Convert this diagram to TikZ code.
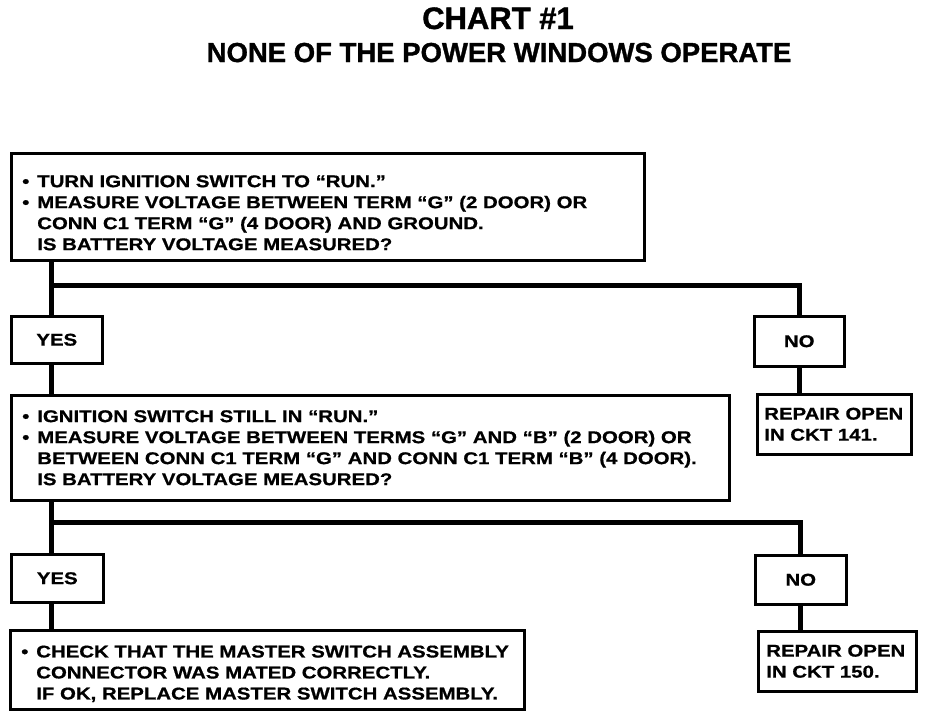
\documentclass[tikz,border=0pt]{standalone}
\usepackage{fontspec}
\setmainfont{Liberation Sans}
\newfontfamily\bodyfont[FakeStretch=1.2, BoldFeatures={FakeBold=0.8}]{Liberation Sans}
\newfontfamily\titlefont[BoldFeatures={FakeBold=1.2}]{Liberation Sans}
\newcommand{\bul}{\makebox[15pt][l]{•}}
\newcommand{\ind}{\hspace*{15pt}}
\begin{document}
\begin{tikzpicture}[x=1pt,y=-1pt,
  box/.style={draw=black, line width=2.5pt, anchor=north west, inner xsep=11pt, inner ysep=0pt,
    align=left, font=\bodyfont\bfseries\fontsize{17pt}{21pt}\selectfont},
  ansbox/.style={box, align=center, inner xsep=0pt},
  conn/.style={line width=5pt},
  ttl/.style={font=\titlefont\bfseries, anchor=base}]
\useasboundingbox (0,0) rectangle (928,720);

\node[ttl, font=\titlefont\bfseries\fontsize{31pt}{34pt}\selectfont] (t1) at (498,29) {CHART \#1};
\node[ttl, font=\titlefont\bfseries\fontsize{27.5pt}{30pt}\selectfont] (t2) at (499,62) {NONE OF THE POWER WINDOWS OPERATE};

\node[box, minimum width=633pt, minimum height=107pt, text width=611pt] (b1) at (10,152)
  {\rule{0pt}{24pt}\bul TURN IGNITION SWITCH TO “RUN.”\\
   \bul MEASURE VOLTAGE BETWEEN TERM “G” (2 DOOR) OR\\
   \ind CONN C1 TERM “G” (4 DOOR) AND GROUND.\\
   \ind IS BATTERY VOLTAGE MEASURED?};

\node[ansbox, minimum width=91pt, minimum height=47pt] (y1) at (10,315) {YES};
\node[ansbox, minimum width=90pt, minimum height=50pt] (n1) at (753,315) {NO};
\node[box, inner xsep=7pt, minimum width=154pt, minimum height=60pt, text width=140pt] (r1) at (756,393)
  {REPAIR OPEN\\IN CKT 141.};

\node[box, minimum width=718pt, minimum height=105pt, text width=696pt] (b2) at (10,394)
  {\bul IGNITION SWITCH STILL IN “RUN.”\\
   \bul MEASURE VOLTAGE BETWEEN TERMS “G” AND “B” (2 DOOR) OR\\
   \ind BETWEEN CONN C1 TERM “G” AND CONN C1 TERM “B” (4 DOOR).\\
   \ind IS BATTERY VOLTAGE MEASURED?};

\node[ansbox, minimum width=92pt, minimum height=48pt] (y2) at (10,553) {YES};
\node[ansbox, minimum width=91pt, minimum height=49pt] (n2) at (754,554) {NO};
\node[box, inner xsep=8pt, minimum width=158pt, minimum height=60pt, text width=142pt] (r2) at (757,630)
  {REPAIR OPEN\\IN CKT 150.};

\node[box, minimum width=514pt, minimum height=79pt, text width=492pt] (b3) at (9,629)
  {\rule{0pt}{20pt}\bul CHECK THAT THE MASTER SWITCH ASSEMBLY\\
   \ind CONNECTOR WAS MATED CORRECTLY.\\
   \ind IF OK, REPLACE MASTER SWITCH ASSEMBLY.};

\coordinate (j1) at (51,285);
\coordinate (j2) at (51,522);

\draw[conn] (b1.south -| j1) -- (y1.north -| j1);
\draw[conn] (j1) -| (n1.north);
\draw[conn] (y1.south -| j1) -- (b2.north -| j1);
\draw[conn] (n1.south) -- (n1.south |- r1.north);
\draw[conn] (b2.south -| j2) -- (y2.north -| j2);
\draw[conn] (j2) -| (n2.north);
\draw[conn] (y2.south -| j2) -- (b3.north -| j2);
\draw[conn] (n2.south) -- (n2.south |- r2.north);
\end{tikzpicture}
\end{document}
